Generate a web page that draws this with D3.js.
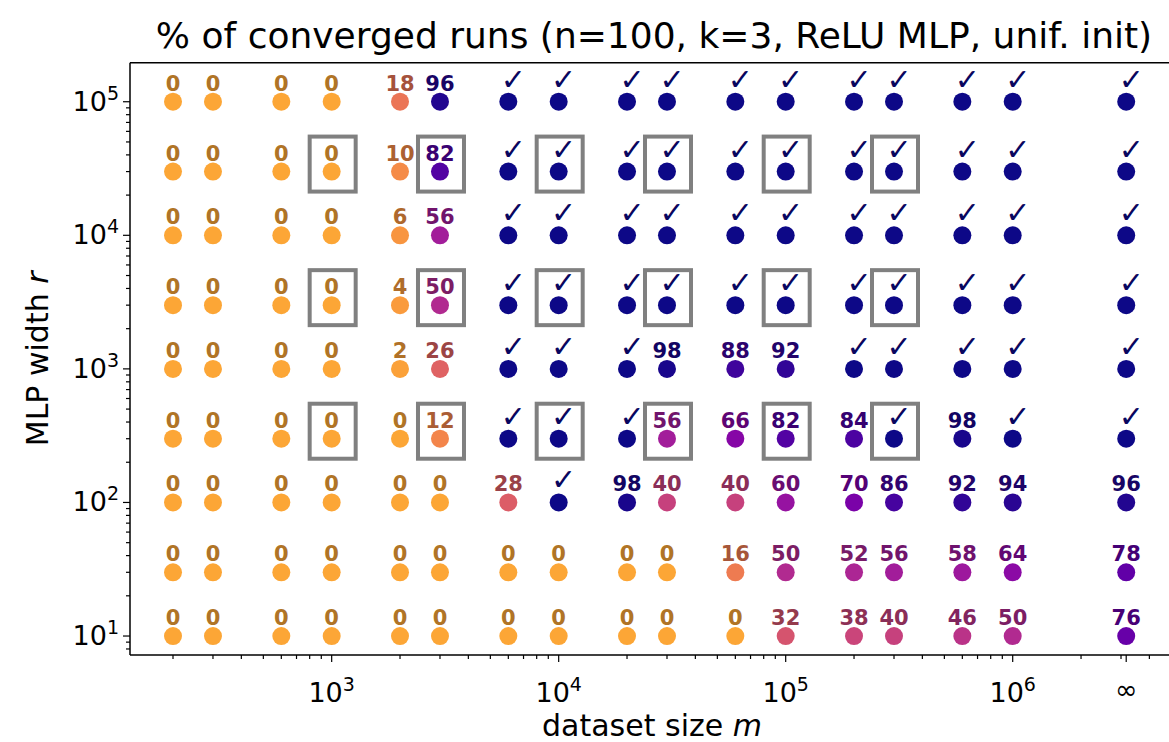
<!DOCTYPE html>
<html><head><meta charset="utf-8">
<script src="https://cdn.jsdelivr.net/npm/d3@7"></script>
<style>body{margin:0;background:#fff} text{font-family:"DejaVu Sans",sans-serif}</style>
</head><body><svg id="c" width="1169" height="742"></svg>
<script>
// ---- data ----
const datasetSizes = [200,300,600,1000,2000,3000,6000,10000,20000,30000,60000,100000,200000,300000,600000,1000000,"inf"];
const infPosition = Math.sqrt(10) * 1e6;   // where the "∞" column sits on the log axis
const mlpWidths = [100000,30000,10000,3000,1000,300,100,30,10];
// % converged; 100 is shown as a check mark
const conv_r100000 = [0,0,0,0,18,96,100,100,100,100,100,100,100,100,100,100,100];
const conv_r30000  = [0,0,0,0,10,82,100,100,100,100,100,100,100,100,100,100,100];
const conv_r10000  = [0,0,0,0,6,56,100,100,100,100,100,100,100,100,100,100,100];
const conv_r3000   = [0,0,0,0,4,50,100,100,100,100,100,100,100,100,100,100,100];
const conv_r1000   = [0,0,0,0,2,26,100,100,100,98,88,92,100,100,100,100,100];
const conv_r300    = [0,0,0,0,0,12,100,100,100,56,66,82,84,100,98,100,100];
const conv_r100    = [0,0,0,0,0,0,28,100,98,40,40,60,70,86,92,94,96];
const conv_r30     = [0,0,0,0,0,0,0,0,0,0,16,50,52,56,58,64,78];
const conv_r10     = [0,0,0,0,0,0,0,0,0,0,0,32,38,40,46,50,76];
const convRows = [conv_r100000,conv_r30000,conv_r10000,conv_r3000,conv_r1000,conv_r300,conv_r100,conv_r30,conv_r10];
const boxedSizes = [1000,3000,10000,30000,100000,300000];
const boxedWidths = [30000,3000,300];
const xMajorTicks = [1e3,1e4,1e5,1e6];
const xMajorExp = ["3","4","5","6"];
const yMajorTicks = [1e1,1e2,1e3,1e4,1e5];
const yMajorExp = ["1","2","3","4","5"];
const titleText = "% of converged runs (n=100, k=3, ReLU MLP, unif. init)";

// ---- layout ----
const svg = d3.select("#c");
const L = 130, R = 1174, T = 62.7, B = 655;
const x = d3.scaleLog().domain([129.3, 5.135e6]).range([L, R]);
const y = d3.scaleLog().domain([7.21, 1.96e5]).range([B, T]);
const mPos = m => m === "inf" ? x(infPosition) : x(m);
const color = v => d3.interpolatePlasma(0.8 * (1 - v / 100));

// cells
const cells = [];
convRows.forEach((row, i) => row.forEach((v, j) => cells.push({m: datasetSizes[j], r: mlpWidths[i], v})));

// boxes
const boxes = [];
boxedWidths.forEach(r => boxedSizes.forEach(m => boxes.push({m, r})));
svg.append("g").selectAll("rect").data(boxes).join("rect")
  .attr("x", d => mPos(d.m) - 22).attr("y", d => y(d.r) - 35)
  .attr("width", 46).attr("height", 55)
  .attr("fill", "none").attr("stroke", "#808080").attr("stroke-width", 4);

svg.append("g").selectAll("circle").data(cells).join("circle")
  .attr("cx", d => mPos(d.m)).attr("cy", d => y(d.r)).attr("r", 9)
  .attr("fill", d => color(d.v));

const labels = svg.append("g");
labels.selectAll("text.num").data(cells.filter(d => d.v < 100)).join("text").attr("class", "num")
  .attr("x", d => mPos(d.m)).attr("y", d => y(d.r) - 11)
  .attr("text-anchor", "middle").attr("font-weight", "bold").attr("font-size", 21)
  .attr("fill", d => d3.rgb(color(d.v)).darker(1))
  .text(d => String(d.v));
labels.selectAll("text.chk").data(cells.filter(d => d.v === 100)).join("text").attr("class", "chk")
  .attr("x", d => mPos(d.m) + 5).attr("y", d => y(d.r) - 12)
  .attr("text-anchor", "middle").attr("font-weight", "bold").attr("font-size", 30)
  .attr("fill", d => d3.rgb(color(d.v)).darker(1))
  .text("\u2713");

// spines
const sp = svg.append("g").attr("stroke", "#000").attr("stroke-width", 1.5).attr("fill", "none");
sp.append("line").attr("x1", L).attr("x2", L).attr("y1", T).attr("y2", B);
sp.append("line").attr("x1", L).attr("x2", R).attr("y1", T).attr("y2", T);
sp.append("line").attr("x1", L).attr("x2", R).attr("y1", B).attr("y2", B);
sp.append("line").attr("x1", R).attr("x2", R).attr("y1", T).attr("y2", B);

// minor ticks
const xMinor = [];
for (let e = 2; e <= 6; e++) for (let k = 2; k <= 9; k++) { const v = k * 10 ** e; if (x(v) > L && x(v) < R) xMinor.push(v); }
const yMinor = [];
for (let e = 0; e <= 5; e++) for (let k = 2; k <= 9; k++) { const v = k * 10 ** e; if (y(v) > T && y(v) < B) yMinor.push(v); }

const tk = svg.append("g").attr("stroke", "#000").attr("stroke-width", 1.2);
tk.selectAll(".xm").data(xMinor).join("line").attr("x1", d => x(d)).attr("x2", d => x(d)).attr("y1", B).attr("y2", B + 4);
tk.selectAll(".xM").data(xMajorTicks).join("line").attr("x1", d => x(d)).attr("x2", d => x(d)).attr("y1", B).attr("y2", B + 7);
tk.append("line").attr("x1", x(infPosition)).attr("x2", x(infPosition)).attr("y1", B).attr("y2", B + 7);
tk.selectAll(".ym").data(yMinor).join("line").attr("y1", d => y(d)).attr("y2", d => y(d)).attr("x1", L).attr("x2", L - 4);
tk.selectAll(".yM").data(yMajorTicks).join("line").attr("y1", d => y(d)).attr("y2", d => y(d)).attr("x1", L).attr("x2", L - 7);

// tick labels
const xl = svg.append("g").selectAll("text").data(xMajorTicks).join("text")
  .attr("x", d => x(d)).attr("y", B + 47).attr("text-anchor", "middle").attr("font-size", 27);
xl.append("tspan").text("10");
xl.append("tspan").attr("dy", -11).attr("font-size", 19).text((d, i) => xMajorExp[i]);
svg.append("text").attr("x", x(infPosition)).attr("y", B + 44).attr("text-anchor", "middle").attr("font-size", 27).text("\u221E");

const yl = svg.append("g").selectAll("text").data(yMajorTicks).join("text")
  .attr("x", L - 11).attr("y", d => y(d) + 9).attr("text-anchor", "end").attr("font-size", 27);
yl.append("tspan").text("10");
yl.append("tspan").attr("dy", -11).attr("font-size", 19).text((d, i) => yMajorExp[i]);

// axis labels
const xlab = svg.append("text").attr("x", (L + R) / 2).attr("y", 736).attr("text-anchor", "middle").attr("font-size", 30);
xlab.append("tspan").text("dataset size ");
xlab.append("tspan").attr("font-style", "italic").text("m");
const ylab = svg.append("text").attr("transform", `translate(48,${(T + B) / 2}) rotate(-90)`).attr("text-anchor", "middle").attr("font-size", 30);
ylab.append("tspan").text("MLP width ");
ylab.append("tspan").attr("font-style", "italic").text("r");

svg.append("text").attr("x", 654).attr("y", 48).attr("text-anchor", "middle").attr("font-size", 36).text(titleText);
</script></body></html>
